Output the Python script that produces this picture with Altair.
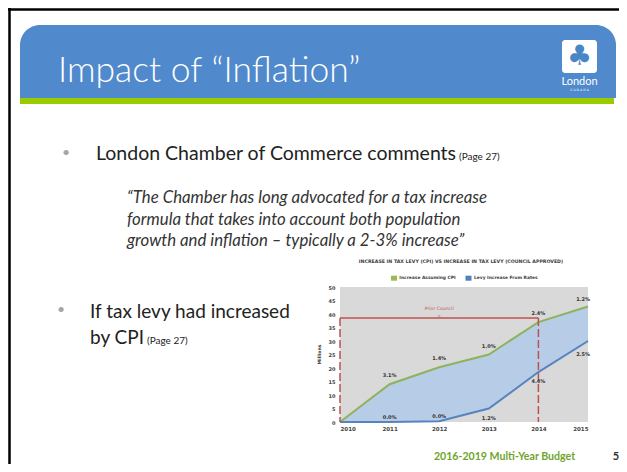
import altair as alt
import pandas as pd

# ---------------- data ----------------
years = [2010, 2011, 2012, 2013, 2014, 2015]
cpi_millions = [0.0, 14.0, 20.3, 25.0, 37.0, 42.8]
levy_millions = [0.0, 0.0, 0.3, 5.0, 18.5, 30.0]
cpi_pct = ["", "3.1%", "1.4%", "1.0%", "2.4%", "1.2%"]
levy_pct = ["", "0.0%", "0.0%", "1.2%", "4.4%", "2.5%"]
y_ticks = [0, 5, 10, 15, 20, 25, 30, 35, 40, 45, 50]
prior_start = [2010]
prior_end = [2014]
prior_level = [38.5]

series_names = ["Increase Assuming CPI", "Levy Increase From Rates"]
chart_title = "INCREASE IN TAX LEVY (CPI) VS INCREASE IN TAX LEVY (COUNCIL APPROVED)"
slide_title = "Impact of \u201cInflation\u201d"
bullet1 = "London Chamber of Commerce comments"
page_ref = "(Page 27)"
quote_lines = [
    "\u201cThe Chamber has long advocated for a tax increase",
    "formula that takes into account both population",
    "growth and inflation \u2013 typically a 2-3% increase\u201d",
]
bullet2_lines = ["If tax levy had increased", "by CPI"]
footer = "2016-2019 Multi-Year Budget"
page_no = "5"

df = pd.DataFrame({"year": years, "cpi": cpi_millions, "levy": levy_millions,
                   "cpi_pct": cpi_pct, "levy_pct": levy_pct})
pc = pd.DataFrame({"start": prior_start, "end": prior_end, "level": prior_level})
edges = pd.DataFrame({"year": prior_start + prior_end, "top": prior_level * 2})
one = pd.DataFrame({"k": [0]})

# ---------------- styles ----------------
W, H = 248, 135
GREEN = "#8DB35B"
BLUE = "#5684BF"
FILL = "#B7CCE6"
RED = "#C0504D"
SMALL = "DejaVu Sans"
SLIDE = "Lato"

x_scale = alt.Scale(domain=[2010, 2015], nice=False, zero=False)
y_scale = alt.Scale(domain=[0, 50], nice=False)
x_axis = alt.Axis(values=years, format="d", grid=False, domain=False, ticks=False,
                  tickSize=0, labelPadding=4, labelFont=SMALL, labelFontWeight="bold",
                  labelFontSize=5.5, labelColor="#444444", labelOverlap=False)
y_axis = alt.Axis(values=y_ticks, tickCount=11, grid=False, domain=False, ticks=False, tickSize=0,
                  labelPadding=5, labelFont=SMALL, labelFontWeight="bold",
                  labelFontSize=5, labelColor="#444444", labelOverlap=False)


def X(field):
    return alt.X(field, scale=x_scale, axis=x_axis, title=None)


def Y(field):
    return alt.Y(field, scale=y_scale, axis=y_axis, title=None)


base = alt.Chart(df)
area = base.mark_area(color=FILL, opacity=1).encode(x=X("year:Q"), y=Y("cpi:Q"), y2="levy:Q")
cpi_line = base.mark_line(color=GREEN, strokeWidth=2).encode(x=X("year:Q"), y=Y("cpi:Q"))
levy_line = base.mark_line(color=BLUE, strokeWidth=2).encode(x=X("year:Q"), y=Y("levy:Q"))

vrules = alt.Chart(edges).mark_rule(color=RED, strokeWidth=1.5, strokeDash=[8, 3]).encode(
    x=X("year:Q"), y=Y("top:Q"), y2=alt.datum(0))
hrule = alt.Chart(pc).mark_rule(color=RED, strokeWidth=1.5).encode(
    x=X("start:Q"), x2="end:Q", y=Y("level:Q"))
mid = alt.Chart(pc).transform_calculate(mid="(datum.start + datum.end) / 2")
mid_tick = mid.mark_text(text="^", font=SMALL, fontSize=5, color=RED, dy=-1).encode(
    x=X("mid:Q"), y=Y("level:Q"))
prior_label = mid.mark_text(text="Prior Council", font=SMALL, fontSize=4.6, color=RED, dy=-9).encode(
    x=X("mid:Q"), y=Y("level:Q"))

lab = dict(font=SMALL, fontWeight="bold", fontSize=5, color="#333333")
cpi_lab_a = base.transform_filter("datum.year > 2010 && datum.year < 2015").mark_text(dy=-9, **lab).encode(
    x=X("year:Q"), y=Y("cpi:Q"), text="cpi_pct:N")
cpi_lab_b = base.transform_filter("datum.year == 2015").mark_text(dy=-7, dx=2, align="right", **lab).encode(
    x=X("year:Q"), y=Y("cpi:Q"), text="cpi_pct:N")
levy_lab_a = base.transform_filter("datum.year > 2010 && datum.year < 2013").mark_text(dy=-5, **lab).encode(
    x=X("year:Q"), y=Y("levy:Q"), text="levy_pct:N")
levy_lab_b = base.transform_filter("datum.year >= 2013 && datum.year < 2015").mark_text(dy=9, **lab).encode(
    x=X("year:Q"), y=Y("levy:Q"), text="levy_pct:N")
levy_lab_c = base.transform_filter("datum.year == 2015").mark_text(dy=13, dx=2, align="right", **lab).encode(
    x=X("year:Q"), y=Y("levy:Q"), text="levy_pct:N")


# ---------------- slide decorations (pixel positions relative to plot origin) ----------------
def txt(text, x, y, **kw):
    return alt.Chart(one).mark_text(**kw).encode(x=alt.value(x), y=alt.value(y), text=alt.value(text))


def box(x, x2, y, y2, **kw):
    return alt.Chart(one).mark_rect(**kw).encode(
        x=alt.value(x), x2=alt.value(x2), y=alt.value(y), y2=alt.value(y2))


deco = [
    alt.Chart(one).mark_rule(color="black", strokeWidth=2.5).encode(
        x=alt.value(-332), x2=alt.value(280), y=alt.value(-277.5)),
    alt.Chart(one).mark_rule(color="black", strokeWidth=2.5).encode(
        x=alt.value(-330.5), y=alt.value(-279), y2=alt.value(180)),
    box(-320, 276, -262, -189, color="#5089CC", cornerRadiusTopLeft=20, cornerRadiusTopRight=20),
    box(-320, 274, -189, -183, color="#99CC00"),
    txt(slide_title, -282, -205, font=SLIDE, fontWeight=300, fontSize=35.5, color="white",
        align="left", baseline="alphabetic"),
    box(222, 257, -247, -214, color="white", cornerRadius=3),
    txt("\u2663", 239.5, -230, font=SMALL, fontSize=28, color="#4A86C5", baseline="middle"),
    txt("London", 239.5, -205, font=SLIDE, fontSize=11, color="white", baseline="middle"),
    txt("C A N A D A", 239.5, -197.5, font=SMALL, fontSize=3.2, color="white", baseline="middle"),
    txt("\u2022", -274, -134, font=SLIDE, fontSize=14, color="#A6A6A6", baseline="middle"),
    txt(bullet1, -244, -127, font=SLIDE, fontSize=19.5, color="#222222", align="left", baseline="alphabetic"),
    txt(page_ref, 119, -127, font=SLIDE, fontSize=10, color="#222222", align="left", baseline="alphabetic"),
    txt(quote_lines[0], -213, -89, font=SLIDE, fontStyle="italic", fontSize=16.8, color="#333333",
        align="left", baseline="middle"),
    txt(quote_lines[1], -213, -67, font=SLIDE, fontStyle="italic", fontSize=16.8, color="#333333",
        align="left", baseline="middle"),
    txt(quote_lines[2], -213, -46, font=SLIDE, fontStyle="italic", fontSize=16.8, color="#333333",
        align="left", baseline="middle"),
    txt("\u2022", -279, 23, font=SLIDE, fontSize=14, color="#A6A6A6", baseline="middle"),
    txt(bullet2_lines[0], -250, 24.7, font=SLIDE, fontSize=19, color="#222222", align="left", baseline="middle"),
    txt(bullet2_lines[1], -250, 51, font=SLIDE, fontSize=19, color="#222222", align="left", baseline="middle"),
    txt(page_ref, -193, 54, font=SLIDE, fontSize=10, color="#222222", align="left", baseline="middle"),
    txt(footer, 164.5, 170, font=SLIDE, fontWeight="bold", fontSize=10.6, color="#6FA52D", baseline="middle"),
    txt(page_no, 276, 170, font=SLIDE, fontWeight="bold", fontSize=11, color="#333333", baseline="middle"),
    # chart title, legend, axis title
    txt(chart_title, 121, -25.3, font=SMALL, fontWeight="bold", fontSize=4.7, color="#404040", baseline="middle"),
    box(51, 57, -11.3, -6.3, color="#9BBB59"),
    txt(series_names[0], 59.3, -8.8, font=SMALL, fontWeight="bold", fontSize=4.4, color="#404040",
        align="left", baseline="middle"),
    box(125.5, 131.5, -11.3, -6.3, color="#4F81BD"),
    txt(series_names[1], 134, -8.8, font=SMALL, fontWeight="bold", fontSize=4.4, color="#404040",
        align="left", baseline="middle"),
    txt("Millions", -20, 67.5, font=SMALL, fontWeight="bold", fontSize=4.6, color="#404040",
        angle=270, baseline="middle"),
]

chart = alt.layer(
    area, cpi_line, levy_line, vrules, hrule, mid_tick, prior_label,
    cpi_lab_a, cpi_lab_b, levy_lab_a, levy_lab_b, levy_lab_c, *deco
).properties(
    width=W, height=H,
    autosize=alt.AutoSizeParams(type="none"),
    padding={"left": 332, "top": 279, "right": 31, "bottom": 42},
).configure(background="white").configure_view(fill="#D9D9D9", strokeWidth=0)

chart.save("out.html", embed_options={"renderer": "svg", "actions": False})
